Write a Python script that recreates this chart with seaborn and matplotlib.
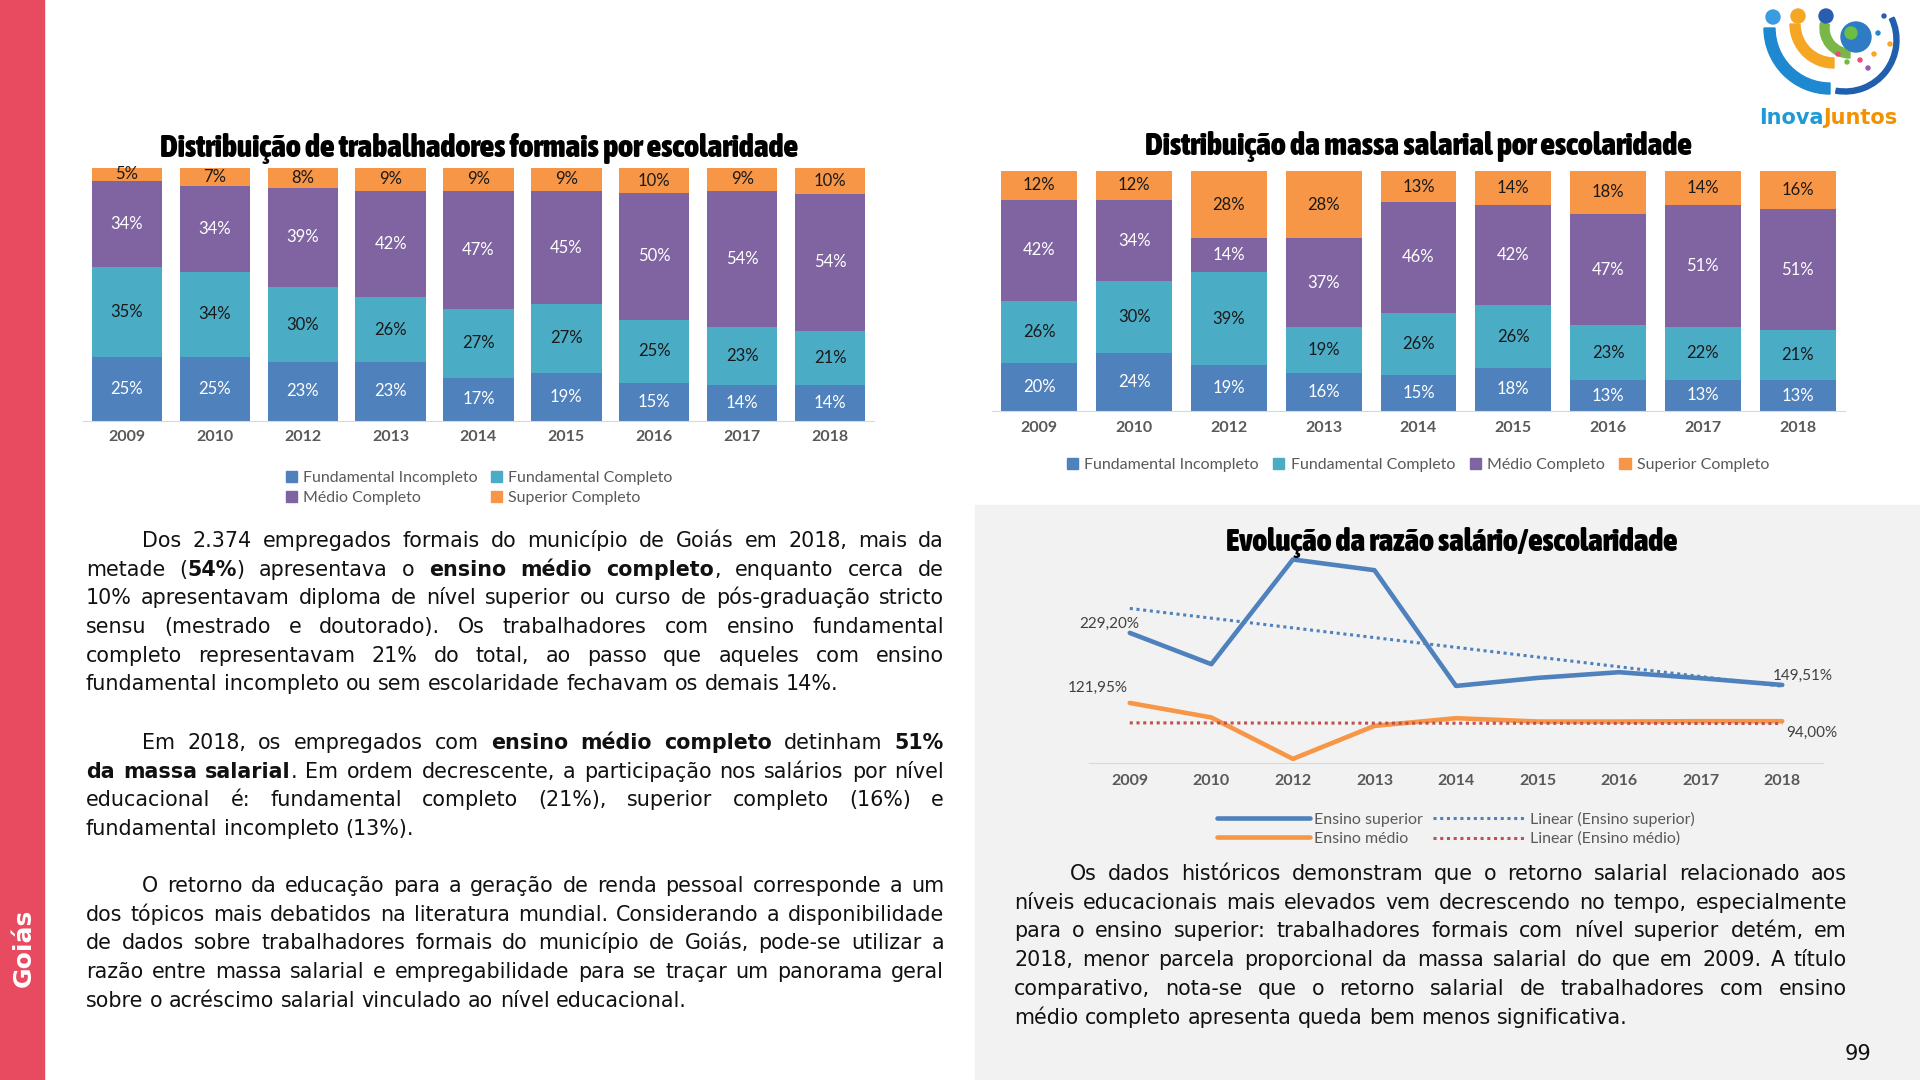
import numpy as np
import pandas as pd
import matplotlib
matplotlib.use('Agg')
import matplotlib.pyplot as plt
import seaborn as sns
from matplotlib import font_manager as fm
from matplotlib.patches import Rectangle, Wedge, Circle, Patch
from matplotlib.lines import Line2D
from matplotlib.transforms import IdentityTransform

# ---- dados ----
anos = ['2009', '2010', '2012', '2013', '2014', '2015', '2016', '2017', '2018']
niveis = ['Fundamental Incompleto', 'Fundamental Completo', 'Médio Completo', 'Superior Completo']
cores = ['#4F81BD', '#4BACC6', '#8064A2', '#F79646']
cores_rotulo = ['white', '#1a1a1a', 'white', '#1a1a1a']

trab_fund_inc = [25, 25, 23, 23, 17, 19, 15, 14, 14]
trab_fund_comp = [35, 34, 30, 26, 27, 27, 25, 23, 21]
trab_medio = [34, 34, 39, 42, 47, 45, 50, 54, 54]
trab_superior = [5, 7, 8, 9, 9, 9, 10, 9, 10]

massa_fund_inc = [20, 24, 19, 16, 15, 18, 13, 13, 13]
massa_fund_comp = [26, 30, 39, 19, 26, 26, 23, 22, 21]
massa_medio = [42, 34, 14, 37, 46, 42, 47, 51, 51]
massa_superior = [12, 12, 28, 28, 13, 14, 18, 14, 16]

razao_superior = [229.20, 181.3, 341.6, 325.2, 148.0, 160.3, 169.0, 159.8, 149.51]
razao_medio = [121.95, 99.7, 36.3, 86.8, 98.6, 93.5, 93.5, 94.0, 94.00]

texto_esq = [
    ["Dos 2.374 empregados formais do município de Goiás em 2018, mais da",
     "metade (**54%**) apresentava o **ensino médio completo**, enquanto cerca de",
     "10% apresentavam diploma de nível superior ou curso de pós-graduação stricto",
     "sensu (mestrado e doutorado). Os trabalhadores com ensino fundamental",
     "completo representavam 21% do total, ao passo que aqueles com ensino",
     "fundamental incompleto ou sem escolaridade fechavam os demais 14%."],
    ["Em 2018, os empregados com **ensino médio completo** detinham **51%**",
     "**da massa salarial**. Em ordem decrescente, a participação nos salários por nível",
     "educacional é: fundamental completo (21%), superior completo (16%) e",
     "fundamental incompleto (13%)."],
    ["O retorno da educação para a geração de renda pessoal corresponde a um",
     "dos tópicos mais debatidos na literatura mundial. Considerando a disponibilidade",
     "de dados sobre trabalhadores formais do município de Goiás, pode-se utilizar a",
     "razão entre massa salarial e empregabilidade para se traçar um panorama geral",
     "sobre o acréscimo salarial vinculado ao nível educacional."],
]
texto_dir = [
    "Os dados históricos demonstram que o retorno salarial relacionado aos",
    "níveis educacionais mais elevados vem decrescendo no tempo, especialmente",
    "para o ensino superior: trabalhadores formais com nível superior detém, em",
    "2018, menor parcela proporcional da massa salarial do que em 2009. A título",
    "comparativo, nota-se que o retorno salarial de trabalhadores com ensino",
    "médio completo apresenta queda bem menos significativa.",
]

# ---- figura ----
W, H = 1920, 1080
sns.set_style('white')
plt.rcParams['font.family'] = ['Lato', 'DejaVu Sans']
fig = plt.figure(figsize=(19.2, 10.8), dpi=100)
fig.patch.set_facecolor('white')
renderer = fig.canvas.get_renderer()


def peso(f):
    w = f.weight
    if isinstance(w, str):
        w = fm.weight_dict.get(w, 400)
    return w


# fonte condensada e pesada para os titulos, se houver
fonte_titulo = None
for f in sorted(fm.fontManager.ttflist, key=lambda f: -peso(f)):
    nome = f.name.lower()
    estreita = 'narrow' in nome or 'condensed' in nome or 'condensed' in str(f.stretch)
    if estreita and peso(f) >= 700 and 'italic' not in f.style and 'oblique' not in f.style:
        fonte_titulo = fm.FontProperties(fname=f.fname)
        break
if fonte_titulo is None:
    fonte_titulo = fm.FontProperties(family='DejaVu Sans', weight='bold')

fig.add_artist(Rectangle((0, 0), 44 / W, 1, transform=fig.transFigure,
                         color='#E84A5F', zorder=-5))
fig.add_artist(Rectangle((975 / W, 0), 1 - 975 / W, 1 - 505 / H,
                         transform=fig.transFigure, color='#F2F2F2', zorder=-5))
fig.text(24 / W, 1 - 948 / H, 'Goiás', rotation=90, color='white', fontsize=18,
         fontweight='bold', family='DejaVu Sans', ha='center', va='center')
fig.text(1858 / W, 1 - 1054 / H, '99', fontsize=15, family='DejaVu Sans',
         ha='center', va='center', color='#111111')


def titulo(xc, yc, s, largura):
    fp = fonte_titulo.copy()
    fp.set_size(20)
    t = fig.text(xc, H - yc, s, transform=IdentityTransform(), ha='center', va='center',
                 fontproperties=fp, color='black')
    w = t.get_window_extent(renderer).width
    t.set_fontsize(20 * largura / w)


def barras(ax, camadas):
    df = pd.DataFrame(dict(zip(niveis, camadas)), index=anos)
    frac = df.div(df.sum(axis=1), axis=0)
    acum = frac.cumsum(axis=1)
    for nivel, cor in reversed(list(zip(niveis, cores))):
        sns.barplot(x=anos, y=acum[nivel].values, color=cor, saturation=1,
                    width=0.8, linewidth=0, errorbar=None, ax=ax)
    for i, ano in enumerate(anos):
        for nivel, cor_t in zip(niveis, cores_rotulo):
            meio = acum.loc[ano, nivel] - frac.loc[ano, nivel] / 2
            ax.text(i, meio, f"{df.loc[ano, nivel]}%", ha='center', va='center',
                    fontsize=12, color=cor_t)
    ax.set_ylim(0, 1)
    ax.set_xlim(-0.5, 8.5)
    ax.set_yticks([])
    ax.set_xlabel('')
    ax.set_ylabel('')
    for lado in ['top', 'right', 'left']:
        ax.spines[lado].set_visible(False)
    ax.spines['bottom'].set_color('#D9D9D9')
    ax.tick_params(axis='x', length=0, pad=7, labelsize=11.5, labelcolor='#595959')
    for lb in ax.get_xticklabels():
        lb.set_fontweight('bold')


# grafico 1
ax1 = fig.add_axes([83 / W, 1 - 420.5 / H, (874 - 83) / W, (420.5 - 168) / H])
barras(ax1, [trab_fund_inc, trab_fund_comp, trab_medio, trab_superior])
titulo(479, 148, 'Distribuição de trabalhadores formais por escolaridade', 632)
h_barras = [Patch(color=c) for c in cores]
fig.legend([h_barras[0], h_barras[2], h_barras[1], h_barras[3]],
           [niveis[0], niveis[2], niveis[1], niveis[3]], ncol=2, loc='center',
           bbox_to_anchor=(479 / W, 1 - 488 / H), frameon=False, fontsize=11.5,
           labelcolor='#595959', handlelength=0.7, handleheight=0.7,
           handletextpad=0.4, columnspacing=0.8, labelspacing=0.35)

# grafico 2
ax2 = fig.add_axes([992 / W, 1 - 411 / H, (1845 - 992) / W, (411 - 171) / H])
barras(ax2, [massa_fund_inc, massa_fund_comp, massa_medio, massa_superior])
titulo(1418, 147, 'Distribuição da massa salarial por escolaridade', 543)
fig.legend(h_barras, niveis, ncol=4, loc='center',
           bbox_to_anchor=(1418 / W, 1 - 465 / H), frameon=False, fontsize=11.5,
           labelcolor='#595959', handlelength=0.7, handleheight=0.7,
           handletextpad=0.4, columnspacing=0.9)

# grafico 3
ax3 = fig.add_axes([1089 / W, 1 - 763 / H, (1823 - 1089) / W, (763 - 554) / H])
ax3.set_facecolor('none')
df_l = pd.DataFrame({'pos': range(len(anos)), 'sup': razao_superior, 'med': razao_medio})
sns.lineplot(data=df_l, x='pos', y='sup', color='#4F81BD', lw=3.3, ax=ax3)
sns.lineplot(data=df_l, x='pos', y='med', color='#F79646', lw=3.3, ax=ax3)
pont = (0, (1, 1.2))
sns.regplot(data=df_l, x='pos', y='sup', scatter=False, ci=None, truncate=True,
            color='#4F81BD', line_kws=dict(ls=pont, lw=2.2), ax=ax3)
sns.regplot(data=df_l, x='pos', y='med', scatter=False, ci=None, truncate=True,
            color='#C0504D', line_kws=dict(ls=pont, lw=2.2), ax=ax3)
ax3.set_xlim(-0.5, 8.5)
ax3.set_ylim(30, 350)
ax3.set_xticks(range(len(anos)))
ax3.set_xticklabels(anos)
ax3.set_yticks([])
ax3.set_xlabel('')
ax3.set_ylabel('')
for lado in ['top', 'right', 'left']:
    ax3.spines[lado].set_visible(False)
ax3.spines['bottom'].set_color('#D9D9D9')
ax3.tick_params(axis='x', length=0, pad=8, labelsize=11.5, labelcolor='#595959')
for lb in ax3.get_xticklabels():
    lb.set_fontweight('bold')


def fmt(v):
    return f"{v:.2f}".replace('.', ',') + '%'


rotulos = [(0, razao_superior[0], (-14.4, 6.5)), (8, razao_superior[-1], (15, 6.5)),
           (0, razao_medio[0], (-23, 10.5)), (8, razao_medio[-1], (21, -8.6))]
for x, v, off in rotulos:
    ax3.annotate(fmt(v), (x, v), xytext=off, textcoords='offset points',
                 ha='center', va='center', fontsize=11, color='#404040')
titulo(1452, 542, 'Evolução da razão salário/escolaridade', 449)
h_linhas = [Line2D([], [], color='#4F81BD', lw=3.3), Line2D([], [], color='#F79646', lw=3.3),
            Line2D([], [], color='#4F81BD', lw=2.2, ls=pont),
            Line2D([], [], color='#C0504D', lw=2.2, ls=pont)]
fig.legend(h_linhas, ['Ensino superior', 'Ensino médio', 'Linear (Ensino superior)',
                      'Linear (Ensino médio)'], ncol=2, loc='center',
           bbox_to_anchor=(1456 / W, 1 - 829 / H), frameon=False, fontsize=11.5,
           labelcolor='#595959', handlelength=5.8, handletextpad=0.3,
           columnspacing=0.6, labelspacing=0.3)

# ---- textos justificados ----
FONTE = 'DejaVu Sans'
TAM = 13.5


def separa(linha, estado):
    palavras = []
    for w in linha.split(' '):
        segs = []
        for i, p in enumerate(w.split('**')):
            if i > 0:
                estado = not estado
            if p:
                segs.append((p, estado))
        palavras.append(segs)
    return palavras, estado


def largura(s, negrito):
    t = fig.text(0, 0, s, fontsize=TAM, family=FONTE,
                 fontweight='bold' if negrito else 'normal')
    w = t.get_window_extent(renderer).width
    t.remove()
    return w


def natural(linhas, x0, x1, recuo=56):
    # maior razao largura natural / largura disponivel nas linhas justificadas
    esp = largura('a a', False) - largura('aa', False)
    pior = 0
    estado = False
    for k, l in enumerate(linhas):
        palavras, estado = separa(l, estado)
        if k == len(linhas) - 1:
            continue
        tot = sum(largura(s, b) for segs in palavras for s, b in segs)
        tot += esp * (len(palavras) - 1)
        disp = x1 - x0 - (recuo if k == 0 else 0)
        pior = max(pior, tot / disp)
    return pior


razoes = [natural(l, 86, 944) for l in texto_esq] + [natural(texto_dir, 1014, 1847)]
TAM = TAM * 0.985 / max(razoes)
espaco = largura('a a', False) - largura('aa', False)


def linha(texto, x0, x1, yc, justificar, estado=False):
    palavras, estado = separa(texto, estado)
    itens = []
    for segs in palavras:
        arts = []
        for s, b in segs:
            t = fig.text(0, 0, s, transform=IdentityTransform(), fontsize=TAM,
                         family=FONTE, fontweight='bold' if b else 'normal',
                         ha='left', va='baseline', color='#111111')
            arts.append((t, t.get_window_extent(renderer).width))
        itens.append(arts)
    total = sum(w for arts in itens for _, w in arts)
    gap = espaco
    if justificar and len(itens) > 1:
        gap = max((x1 - x0 - total) / (len(itens) - 1), espaco * 0.6)
    x = x0
    for arts in itens:
        for t, w in arts:
            t.set_position((x, H - (yc + 7)))
            x += w
        x += gap
    return estado


def paragrafo(linhas, x0, x1, y0, passo=28.7, recuo=56):
    estado = False
    for k, l in enumerate(linhas):
        ini = x0 + recuo if k == 0 else x0
        estado = linha(l, ini, x1, y0 + k * passo, k < len(linhas) - 1, estado)


for linhas, y0 in zip(texto_esq, [540, 742, 885]):
    paragrafo(linhas, 86, 944, y0)
paragrafo(texto_dir, 1014, 1847, 873)

# ---- logo ----
axl = fig.add_axes([1740 / W, 1 - 135 / H, 180 / W, 135 / H])
axl.set_xlim(1740, 1920)
axl.set_ylim(135, 0)
axl.axis('off')
axl.add_patch(Wedge((1845, 40), 54, -25, 100, width=5, color='#1F5FAD'))
axl.add_patch(Wedge((1830, 28), 66, 90, 180, width=11, color='#1E88D0'))
axl.add_patch(Wedge((1834, 24), 44, 90, 180, width=10, color='#F5A623'))
axl.add_patch(Wedge((1850, 28), 30, 90, 190, width=9, color='#7AB648'))
axl.add_patch(Circle((1773, 17), 7, color='#3A9BE0'))
axl.add_patch(Circle((1798, 16), 7, color='#F5A623'))
axl.add_patch(Circle((1826, 16), 7, color='#2A5DB0'))
axl.add_patch(Circle((1856, 37), 15, color='#2E7CC4'))
axl.add_patch(Circle((1851, 33), 6, color='#6DBE45'))
for (px, py, c) in [(1838, 54, '#E94E77'), (1847, 62, '#6DBE45'), (1860, 60, '#E94E77'),
                    (1874, 54, '#F5A623'), (1878, 33, '#1E88D0'), (1884, 16, '#2A5DB0'),
                    (1868, 68, '#9B59B6'), (1890, 44, '#F5A623')]:
    axl.add_patch(Circle((px, py), 2, color=c))
tl = axl.text(1759, 118, 'Inova', color='#1E9AD6', fontsize=15, fontweight='bold',
              va='center', ha='left', family='DejaVu Sans')
axl.annotate('Juntos', xy=(1, 0.5), xycoords=tl, color='#F39200', fontsize=15,
             fontweight='bold', va='center', ha='left', family='DejaVu Sans')

fig.savefig('out.png', dpi=100, facecolor='white')
